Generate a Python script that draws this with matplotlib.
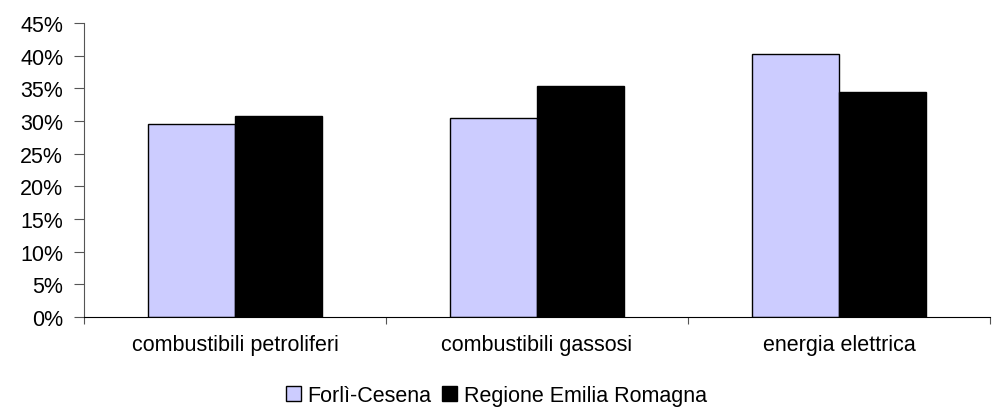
import matplotlib.pyplot as plt
import numpy as np
from matplotlib.ticker import FixedLocator, PercentFormatter, NullFormatter

plt.rcParams['font.family'] = ['Liberation Sans', 'DejaVu Sans']

categories = ['combustibili petroliferi', 'combustibili gassosi', 'energia elettrica']
forli_cesena = [29.5, 30.5, 40.3]
emilia_romagna = [30.8, 35.3, 34.4]
y_ticks = [0, 5, 10, 15, 20, 25, 30, 35, 40, 45]

fs = 15.5

fig = plt.figure(figsize=(9.93, 4.10), dpi=100)
ax = fig.add_axes([0.0846, 0.2244, 0.9124, 0.7171])

x = np.arange(len(categories))
w = 0.287
ax.bar(x - w / 2, forli_cesena, w, color='#CCCCFF', edgecolor='black', linewidth=1.0,
       label='Forlì-Cesena')
ax.bar(x + w / 2, emilia_romagna, w, color='black', edgecolor='black', linewidth=1.0,
       label='Regione Emilia Romagna')

ax.set_xlim(-0.5, len(categories) - 0.5)
ax.set_ylim(0, 45)
ax.set_yticks(y_ticks)
ax.yaxis.set_major_formatter(PercentFormatter(decimals=0))

ax.set_xticks(x)
ax.set_xticklabels(categories)
ax.xaxis.set_minor_locator(FixedLocator(np.arange(len(categories) + 1) - 0.5))
ax.xaxis.set_minor_formatter(NullFormatter())
ax.tick_params(axis='x', which='major', length=0, pad=12, labelsize=fs)
ax.tick_params(axis='x', which='minor', length=5, width=0.8, color='#555555')
ax.tick_params(axis='y', length=7, width=0.8, color='#555555', labelsize=fs, pad=8)

for side in ['top', 'right']:
    ax.spines[side].set_visible(False)
ax.spines['left'].set_color('#555555')
ax.spines['bottom'].set_color('black')

fig.legend(loc='center', bbox_to_anchor=(0.5, 0.032), ncol=2, frameon=False,
           fontsize=fs, handlelength=0.7, handleheight=0.7, handletextpad=0.3,
           columnspacing=0.5)

fig.savefig('out.png', dpi=100)
